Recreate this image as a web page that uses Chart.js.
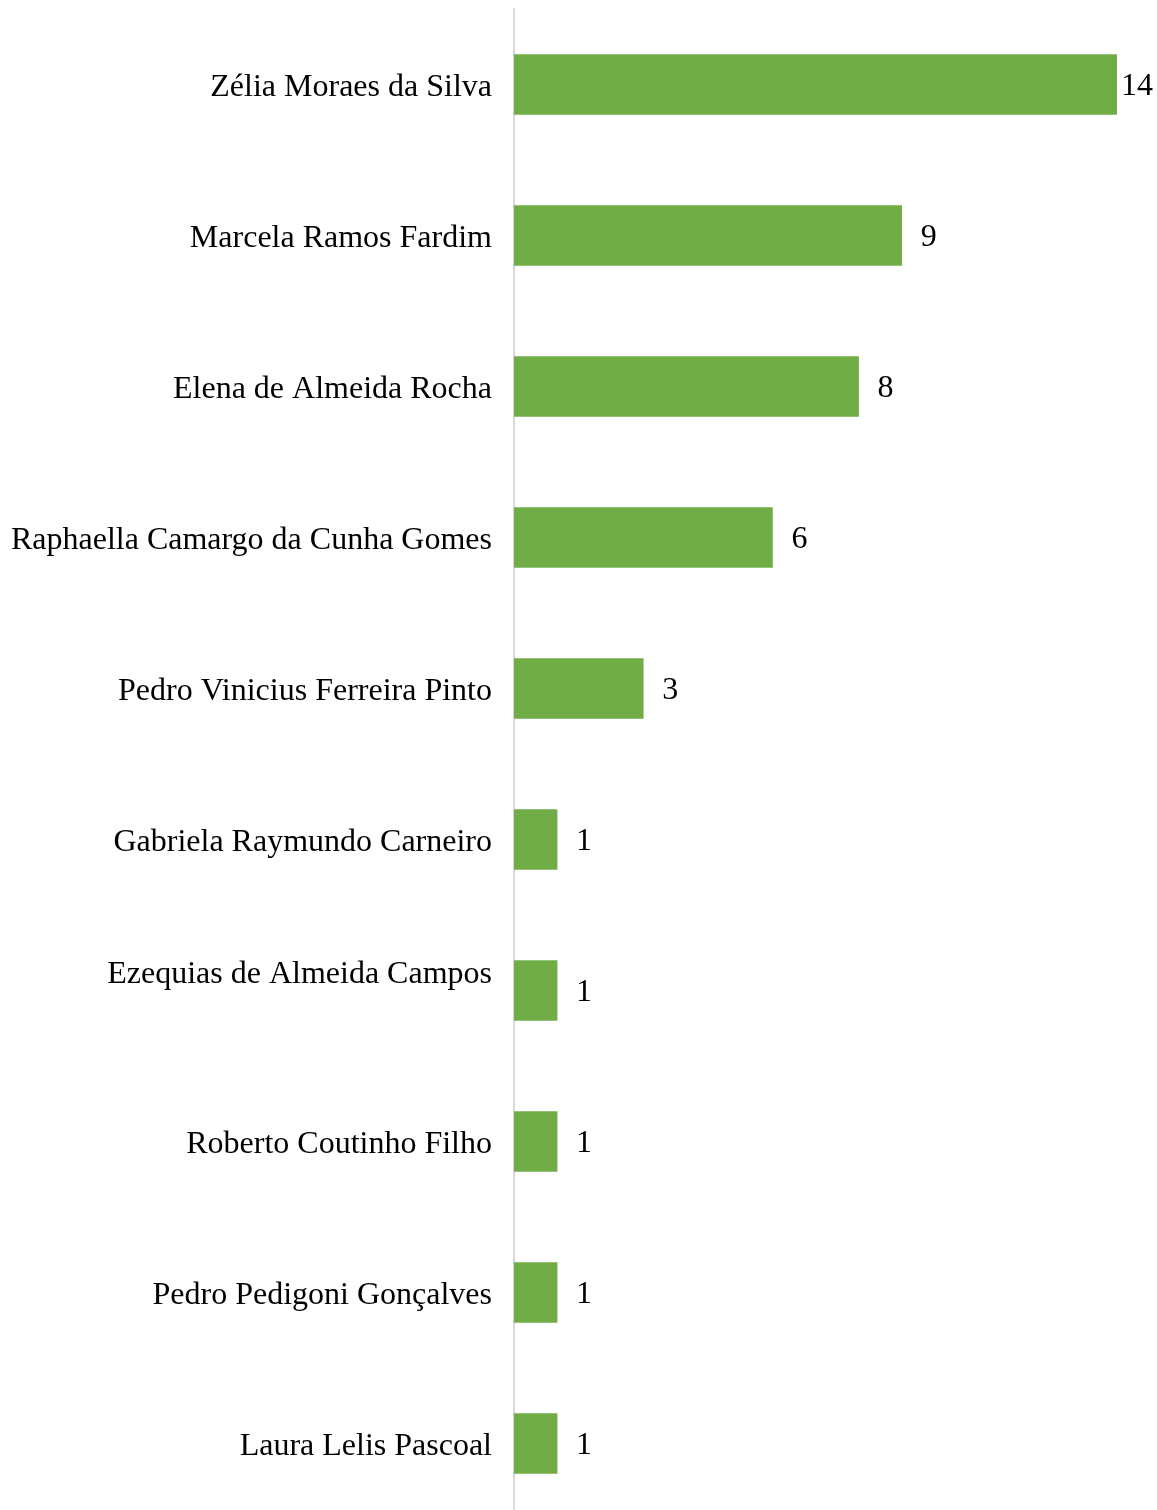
<!DOCTYPE html>
<html lang="pt">
<head>
  <meta charset="utf-8">
  <title>Gráfico</title>
  <script src="https://cdn.jsdelivr.net/npm/chart.js"></script>
  <style>
    html, body { margin: 0; padding: 0; background: #fff; overflow: hidden; }
    #wrap { width: 1157px; height: 1519px; }
  </style>
</head>
<body>
  <div id="wrap"><canvas id="grafico"></canvas></div>
  <script>
    // nomes (o de Ezequias tinha quebra de linha no original)
    const nomes = [
      'Zélia Moraes da Silva',
      'Marcela Ramos Fardim',
      'Elena de Almeida Rocha',
      'Raphaella Camargo da Cunha Gomes',
      'Pedro Vinicius Ferreira Pinto',
      'Gabriela Raymundo Carneiro',
      ['Ezequias de Almeida Campos', ''],
      'Roberto Coutinho Filho',
      'Pedro Pedigoni Gonçalves',
      'Laura Lelis Pascoal'
    ];
    const valores = [14, 9, 8, 6, 3, 1, 1, 1, 1, 1];
    const eixoMax = 14;

    const fonte = '"Liberation Serif", "Times New Roman", serif';

    // rótulos de valor ao lado das barras
    const rotulos = {
      id: 'rotulos',
      afterDatasetsDraw(chart) {
        const ctx = chart.ctx;
        const meta = chart.getDatasetMeta(0);
        ctx.save();
        ctx.font = '32px ' + fonte;
        ctx.fillStyle = '#000';
        ctx.textBaseline = 'middle';
        meta.data.forEach(function (bar, i) {
          const txt = String(valores[i]);
          const w = ctx.measureText(txt).width;
          let x = bar.x + 19;
          if (x + w > chart.width - 4) x = chart.width - 4 - w;
          ctx.fillText(txt, x, bar.y + 2);
        });
        ctx.restore();
      }
    };

    new Chart(document.getElementById('grafico'), {
      type: 'bar',
      data: {
        labels: nomes,
        datasets: [{
          data: valores,
          backgroundColor: '#70AD47',
          barThickness: 60
        }]
      },
      options: {
        indexAxis: 'y',
        responsive: true,
        maintainAspectRatio: false,
        animation: false,
        layout: { padding: { top: 9, right: 40, bottom: 0, left: 0 } },
        plugins: {
          legend: { display: false },
          tooltip: { enabled: false }
        },
        scales: {
          x: {
            display: false,
            min: 0,
            max: eixoMax
          },
          y: {
            grid: { display: false },
            border: { display: true, color: '#d9d9d9', width: 2 },
            ticks: {
              color: '#000',
              padding: 14,
              labelOffset: 3,
              font: { family: fonte, size: 32 }
            },
            afterFit(scale) {
              scale.width = 514;
              scale.paddingTop = 0;
              scale.paddingBottom = 0;
            }
          }
        }
      },
      plugins: [rotulos]
    });
  </script>
</body>
</html>
